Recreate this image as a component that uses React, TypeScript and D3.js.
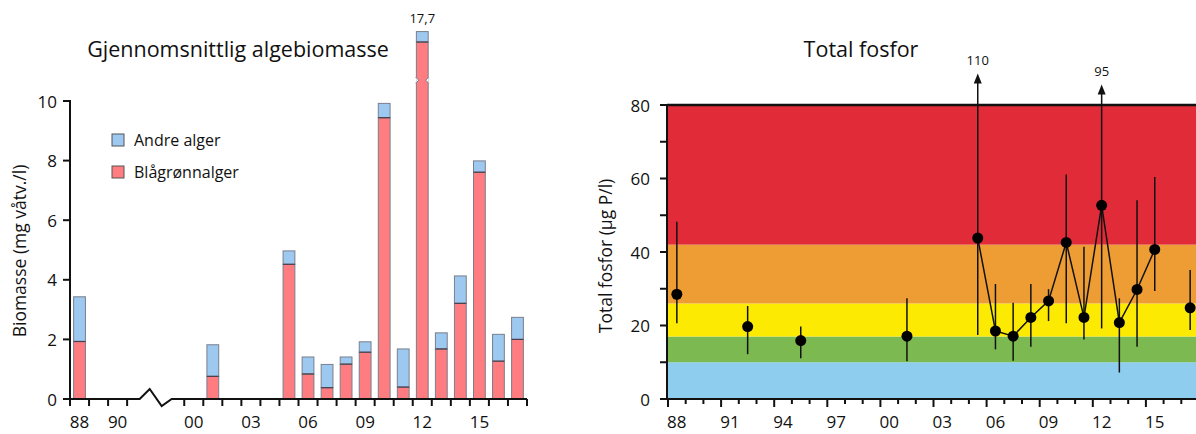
import React from "react";
import * as d3 from "d3";

// ---------- Left chart data ----------
const slots = ["88", "89", "90", "91", "b1", "b2", "00", "01", "02", "03", "04", "05", "06", "07", "08", "09", "10", "11", "12", "13", "14", "15", "16", "17"];
const leftTickLabels = ["88", "90", "00", "03", "06", "09", "12", "15"];
const barYears = ["88", "01", "05", "06", "07", "08", "09", "10", "11", "12", "13", "14", "15", "16", "17"];
const blaagronnalger = [1.93, 0.76, 4.52, 0.84, 0.38, 1.17, 1.57, 9.44, 0.4, 17.35, 1.68, 3.21, 7.61, 1.27, 2.0];
const andreAlger = [1.5, 1.06, 0.45, 0.57, 0.78, 0.24, 0.35, 0.48, 1.28, 0.35, 0.54, 0.92, 0.38, 0.9, 0.74];
const leftYTicks = [0, 2, 4, 6, 8, 10];
const breakLow = 10.7;
const breakGap = 5.37;

// ---------- Right chart data ----------
const tpYears = [1988, 1992, 1995, 2001, 2005, 2006, 2007, 2008, 2009, 2010, 2011, 2012, 2013, 2014, 2015, 2017];
const tpMean = [28.5, 19.7, 15.9, 17.1, 43.8, 18.5, 17.1, 22.2, 26.7, 42.6, 22.2, 52.7, 20.8, 29.8, 40.7, 24.8];
const tpMin = [20.6, 12.2, 11.1, 10.3, 17.4, 13.5, 10.4, 14.2, 21.2, 20.6, 16.2, 19.2, 7.2, 14.2, 29.4, 18.8];
const tpMax = [48.2, 25.3, 19.7, 27.4, 110, 31.3, 26.2, 31.3, 29.9, 61.1, 41.4, 95, 27.4, 54.1, 60.4, 35.1];
const connectedYears = [2005, 2006, 2007, 2008, 2009, 2010, 2011, 2012, 2013, 2014, 2015];
const arrowTipValue = [88.6, 85.6];
const classLimits = [0, 10, 17, 26, 42, 80];
const classColors = ["#8FCDEF", "#7CB950", "#FDEA03", "#EE9D35", "#E12B38"];
const rightYMajor = [0, 20, 40, 60, 80];
const rightYMinor = [10, 30, 50, 70];
const rightXLabels = [1988, 1991, 1994, 1997, 2000, 2003, 2006, 2009, 2012, 2015];

const FONT = "'Open Sans', 'DejaVu Sans', sans-serif";

export default function App() {
  // Left scales
  const xL = d3.scaleBand<string>().domain(slots).range([70, 527]).paddingInner(0.38).paddingOuter(0.19);
  const step = xL.step();
  const yLin = d3.scaleLinear().domain([0, 10]).range([399, 101]);
  const yL = (v: number) => yLin(v > breakLow ? v - breakGap : v);
  const slotStart = (s: string) => 70 + slots.indexOf(s) * step;
  const brkCenter = slotStart("b1") + step / 2;

  // Right scales
  const xR = d3.scaleLinear().domain([1987.5, 2018.5]).range([668, 668 + 31 * 17.7]);
  const yR = d3.scaleLinear().domain([0, 80]).range([399, 105]);

  const tpLine = d3
    .line<number>()
    .x((yr) => xR(yr))
    .y((yr) => yR(tpMean[tpYears.indexOf(yr)]));

  const boundaryTicks = slots
    .map((s, i) => ({ s, i }))
    .filter(({ s }) => s !== "b1" && s !== "b2" && s !== "00")
    .map(({ i }) => 70 + i * step);
  boundaryTicks.push(70 + slots.indexOf("00") * step);
  boundaryTicks.push(70 + slots.length * step);

  const rightBoundaries = d3.range(1987.5, 2018.5, 1);

  let arrowIdx = 0;

  return (
    <svg width={1196} height={434} style={{ position: "absolute", left: 0, top: 0, fontFamily: FONT }}>
      <rect x={0} y={0} width={1196} height={434} fill="#fff" />
      {/* ---------------- LEFT CHART ---------------- */}
      <text x={238} y={57} fontSize={21.5} textAnchor="middle" fill="#111">
        Gjennomsnittlig algebiomasse
      </text>
      <text transform={`translate(21,251) rotate(-90)`} fontSize={17.5} textAnchor="middle" dominantBaseline="middle" fill="#111">
        Biomasse (mg våtv./l)
      </text>
      {/* bars */}
      {barYears.map((yr, i) => {
        const x = xL(yr)!;
        const w = xL.bandwidth();
        const red = blaagronnalger[i];
        const tot = red + andreAlger[i];
        const yRed = yL(red);
        const yTot = yL(tot);
        return (
          <g key={yr}>
            <rect x={x} y={yRed} width={w} height={399 - yRed} fill="#FF7C80" stroke="#7a7f8c" strokeWidth={1} />
            <rect x={x} y={yTot} width={w} height={yRed - yTot} fill="#9DC8F0" stroke="#7a7f8c" strokeWidth={1} />
            <line x1={x} x2={x + w} y1={yRed} y2={yRed} stroke="#4a3f4a" strokeWidth={1.2} />
            {tot > breakLow + breakGap && (
              <g>
                <path
                  d={`M${x - 0.5},${yL(breakLow) - 3} L${x + 2.5},${yL(breakLow)} L${x - 0.5},${yL(breakLow) + 3} Z`}
                  fill="#fff"
                  stroke="#7a7f8c"
                  strokeWidth={1}
                />
                <path
                  d={`M${x + w + 0.5},${yL(breakLow) - 3} L${x + w - 2.5},${yL(breakLow)} L${x + w + 0.5},${yL(breakLow) + 3} Z`}
                  fill="#fff"
                  stroke="#7a7f8c"
                  strokeWidth={1}
                />
                <rect x={x - 2} y={yL(breakLow) - 2.5} width={1.8} height={5} fill="#fff" />
                <rect x={x + w + 0.2} y={yL(breakLow) - 2.5} width={1.8} height={5} fill="#fff" />
                <text x={x + w / 2} y={yTot - 9} fontSize={13} textAnchor="middle" fill="#111">
                  {String(tot.toFixed(1)).replace(".", ",")}
                </text>
              </g>
            )}
          </g>
        );
      })}
      {/* left y axis */}
      <line x1={70} x2={70} y1={100} y2={400} stroke="#111" strokeWidth={2} />
      {leftYTicks.map((t) => (
        <g key={t}>
          <line x1={63} x2={70} y1={yLin(t)} y2={yLin(t)} stroke="#111" strokeWidth={2} />
          <text x={57} y={yLin(t)} fontSize={17} textAnchor="end" dominantBaseline="central" fill="#111">
            {t}
          </text>
        </g>
      ))}
      {/* left x axis with break */}
      <path
        d={`M70,399 L${brkCenter - 16},399 L${brkCenter - 6},389 L${brkCenter + 6},406 L${brkCenter + 16},399 L527,399`}
        fill="none"
        stroke="#111"
        strokeWidth={2}
      />
      {boundaryTicks.map((bx, i) => (
        <line key={i} x1={bx} x2={bx} y1={399} y2={406} stroke="#111" strokeWidth={2} />
      ))}
      {leftTickLabels.map((l) => (
        <text key={l} x={xL(l)! + xL.bandwidth() / 2} y={428} fontSize={17} textAnchor="middle" fill="#111">
          {l}
        </text>
      ))}
      {/* legend */}
      <rect x={112} y={134} width={12} height={12} fill="#9DC8F0" stroke="#555" strokeWidth={1} />
      <text x={134} y={140} fontSize={16} dominantBaseline="central" fill="#111">
        Andre alger
      </text>
      <rect x={112} y={166} width={12} height={12} fill="#FF7C80" stroke="#555" strokeWidth={1} />
      <text x={134} y={172} fontSize={16} dominantBaseline="central" fill="#111">
        Blågrønnalger
      </text>

      {/* ---------------- RIGHT CHART ---------------- */}
      <text x={861} y={57} fontSize={21.5} textAnchor="middle" fill="#111">
        Total fosfor
      </text>
      <text transform={`translate(607,256) rotate(-90)`} fontSize={17.5} textAnchor="middle" dominantBaseline="middle" fill="#111">
        Total fosfor (µg P/l)
      </text>
      {classColors.map((c, i) => (
        <rect
          key={c}
          x={668}
          y={yR(classLimits[i + 1])}
          width={1196 - 668}
          height={yR(classLimits[i]) - yR(classLimits[i + 1])}
          fill={c}
        />
      ))}
      <line x1={667} x2={1196} y1={yR(80)} y2={yR(80)} stroke="#111" strokeWidth={2.5} />
      {/* error bars */}
      {tpYears.map((yr, i) => {
        const over = tpMax[i] > 80;
        const top = over ? yR(arrowTipValue[arrowIdx++]) : yR(tpMax[i]);
        const cx = xR(yr);
        return (
          <g key={yr}>
            <line x1={cx} x2={cx} y1={yR(tpMin[i])} y2={over ? top + 8 : top} stroke="#111" strokeWidth={1.5} />
            {over && (
              <g>
                <path d={`M${cx},${top} L${cx - 4},${top + 10} L${cx + 4},${top + 10} Z`} fill="#111" />
                <text x={cx} y={top - 8} fontSize={13} textAnchor="middle" fill="#111">
                  {tpMax[i]}
                </text>
              </g>
            )}
          </g>
        );
      })}
      <path d={tpLine(connectedYears) || ""} fill="none" stroke="#111" strokeWidth={1.5} />
      {tpYears.map((yr, i) => (
        <circle key={yr} cx={xR(yr)} cy={yR(tpMean[i])} r={5.5} fill="#000" />
      ))}
      {/* right axes */}
      <line x1={667} x2={667} y1={yR(80) - 1} y2={400} stroke="#111" strokeWidth={2} />
      <line x1={666} x2={1196} y1={399} y2={399} stroke="#111" strokeWidth={2} />
      {rightYMajor.concat(rightYMinor).map((t) => (
        <line key={t} x1={660} x2={667} y1={yR(t)} y2={yR(t)} stroke="#111" strokeWidth={2} />
      ))}
      {rightYMajor.map((t) => (
        <text key={t} x={650} y={yR(t)} fontSize={17} textAnchor="end" dominantBaseline="central" fill="#111">
          {t}
        </text>
      ))}
      {rightBoundaries.map((b) => {
        const major = rightXLabels.includes(b + 0.5);
        return <line key={b} x1={xR(b)} x2={xR(b)} y1={399} y2={major ? 407 : 404} stroke="#111" strokeWidth={2} />;
      })}
      {rightXLabels.map((yr) => (
        <text key={yr} x={xR(yr)} y={428} fontSize={17} textAnchor="middle" fill="#111">
          {String(yr).slice(2)}
        </text>
      ))}
    </svg>
  );
}
